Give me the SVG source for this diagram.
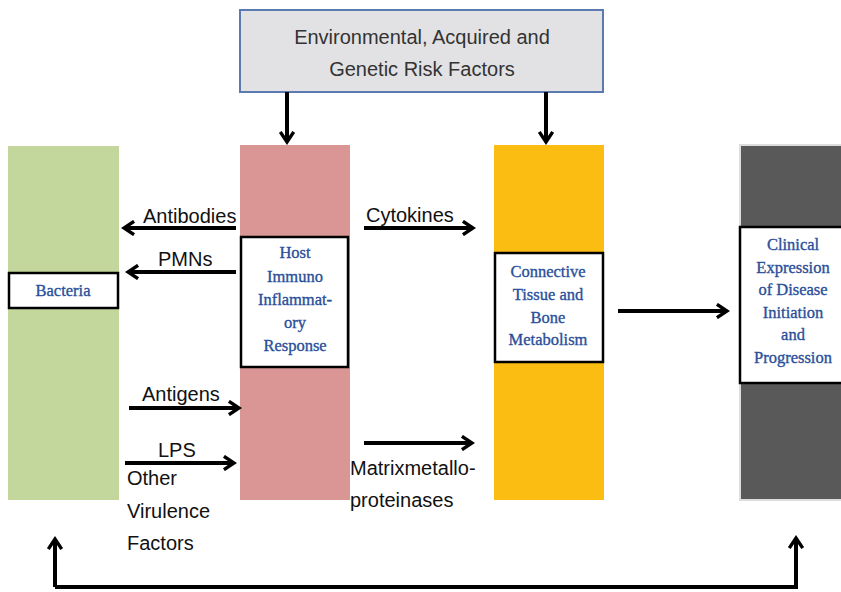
<svg xmlns="http://www.w3.org/2000/svg" width="841" height="592" viewBox="0 0 841 592">
<style>
.lbl{font-family:"Liberation Sans",Arial,sans-serif;font-size:20px;fill:#111}
.box{font-family:"Liberation Serif","Times New Roman",serif;font-size:16.5px;fill:#2a4f9a;stroke:#2a4f9a;stroke-width:0.35;text-anchor:middle}
.wb{fill:#fff;stroke:#000;stroke-width:2.5}
.ar{stroke:#000;stroke-width:4;fill:none;marker-end:url(#ah)}
</style>
<defs>
<marker id="ah" viewBox="0 0 10 10" refX="8" refY="5" markerWidth="4.2" markerHeight="4.2" orient="auto" markerUnits="strokeWidth">
<polyline points="2,1 8,5 2,9" fill="none" stroke="#000" stroke-width="2"/>
</marker>
</defs>
<rect width="841" height="592" fill="#fff"/>
<g id="risk">
<rect x="240" y="10" width="363" height="82" fill="#e2e2e4" stroke="#5b7bb0" stroke-width="2"/>
<text x="422" y="44" class="lbl" text-anchor="middle" style="fill:#333">Environmental, Acquired and</text>
<text x="422" y="76" class="lbl" text-anchor="middle" style="fill:#333">Genetic Risk Factors</text>
</g>
<g id="bacteria">
<rect x="8" y="146" width="111" height="354" fill="#c3d69b"/>
<rect x="9" y="273" width="109" height="35" class="wb"/>
<text x="63" y="296" class="box">Bacteria</text>
</g>
<g id="host">
<rect x="240" y="145" width="110" height="355" fill="#d99694"/>
<rect x="241" y="237" width="107" height="130" class="wb"/>
<text x="295" y="258" class="box">Host</text>
<text x="295" y="282" class="box">Immuno</text>
<text x="295" y="305" class="box">Inflammat-</text>
<text x="295" y="328" class="box">ory</text>
<text x="295" y="351" class="box">Response</text>
</g>
<g id="connective">
<rect x="494" y="145" width="110" height="355" fill="#fbbd12"/>
<rect x="495" y="253" width="108" height="109" class="wb"/>
<text x="548" y="277" class="box">Connective</text>
<text x="548" y="300" class="box">Tissue and</text>
<text x="548" y="323" class="box">Bone</text>
<text x="548" y="345" class="box">Metabolism</text>
</g>
<g id="clinical">
<rect x="740" y="145" width="103" height="355" fill="#595959" stroke="#ddd" stroke-width="2"/>
<rect x="740" y="227" width="103" height="156" class="wb"/>
<text x="793" y="250" class="box">Clinical</text>
<text x="793" y="273" class="box">Expression</text>
<text x="793" y="295" class="box">of Disease</text>
<text x="793" y="318" class="box">Initiation</text>
<text x="793" y="340" class="box">and</text>
<text x="793" y="363" class="box">Progression</text>
</g>
<g id="connectors">
<line x1="287" y1="92" x2="287" y2="142" class="ar"/>
<line x1="546" y1="92" x2="546" y2="142" class="ar"/>
<line x1="236" y1="228" x2="124" y2="228" class="ar"/>
<line x1="236" y1="272" x2="128" y2="272" class="ar"/>
<line x1="364" y1="228" x2="473" y2="228" class="ar"/>
<line x1="129" y1="408" x2="239" y2="408" class="ar"/>
<line x1="125" y1="463" x2="234" y2="463" class="ar"/>
<line x1="364" y1="443" x2="472" y2="443" class="ar"/>
<line x1="618" y1="311" x2="727" y2="311" class="ar"/>
<path d="M55,587 L55,539" class="ar"/>
<path d="M55,587 L796,587 L796,538" class="ar"/>
</g>
<g id="labels">
<text x="143" y="223" class="lbl">Antibodies</text>
<text x="158" y="266" class="lbl">PMNs</text>
<text x="366" y="222" class="lbl">Cytokines</text>
<text x="142" y="401" class="lbl">Antigens</text>
<text x="158" y="457" class="lbl">LPS</text>
<text x="127" y="485" class="lbl">Other</text>
<text x="127" y="518" class="lbl">Virulence</text>
<text x="127" y="550" class="lbl">Factors</text>
<text x="350" y="475" class="lbl">Matrixmetallo-</text>
<text x="350" y="507" class="lbl">proteinases</text>
</g>
</svg>
